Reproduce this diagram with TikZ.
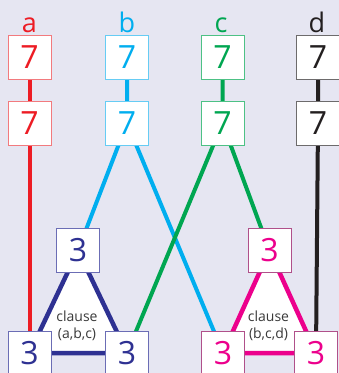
\documentclass[tikz,border=0pt]{standalone}
\usepackage{fontspec}
\setmainfont{Open Sans}
\definecolor{bg}{HTML}{E6E6F2}
\definecolor{cred}{HTML}{ED1C24}
\definecolor{cblue}{HTML}{00AEEF}
\definecolor{cgreen}{HTML}{00A651}
\definecolor{cblack}{HTML}{231F20}
\definecolor{cnavy}{HTML}{2E3192}
\definecolor{cmag}{HTML}{EC008C}
\definecolor{lred}{HTML}{F27A7E}
\definecolor{lblue}{HTML}{66CCF4}
\definecolor{lgreen}{HTML}{4DC185}
\definecolor{lgrey}{HTML}{6D6B6C}
\definecolor{lnavy}{HTML}{6B6DB5}
\definecolor{lmag}{HTML}{B0508A}
\definecolor{ctext}{HTML}{3A3A3A}
\tikzset{
  numbox/.style={draw=#1, fill=white, line width=1pt, minimum width=43pt, minimum height=44pt, inner sep=0pt, font=\fontsize{32}{32}\selectfont},
  lbl/.style={font=\fontsize{27}{27}\selectfont, inner sep=0pt},
  wire/.style={line width=4pt},
  cl/.style={font=\fontsize{14}{17.5}\selectfont, text=ctext, align=center, inner sep=0pt}
}
\begin{document}
\begin{tikzpicture}[x=1pt,y=-1pt]
\fill[bg] (0,0) rectangle (339,373);
\useasboundingbox (0,0) rectangle (339,373);
% labels
\node[lbl, text=cred, anchor=base] (la) at (29.5,32) {a};
\node[lbl, text=cblue, anchor=base] (lb) at (127,32) {b};
\node[lbl, text=cgreen, anchor=base] (lc) at (221,32) {c};
\node[lbl, text=cblack, anchor=base] (ld) at (317,32) {d};
% coordinates
\coordinate (pa1) at (29.5,57);
\coordinate (pa2) at (29.5,123);
\coordinate (pb1) at (127,57);
\coordinate (pb2) at (127,123);
\coordinate (pc1) at (222.5,57);
\coordinate (pc2) at (222.5,123);
\coordinate (pd1) at (318,57);
\coordinate (pd2) at (318,123);
\coordinate (pt1) at (78,250.5);
\coordinate (pl1) at (29.5,353);
\coordinate (pr1) at (127,353);
\coordinate (pt2) at (269.5,250.5);
\coordinate (pl2) at (223,353);
\coordinate (pr2) at (316,353);
% wires
\draw[wire, cred] (pa1) -- (pa2) -- (pl1);
\draw[wire, cblue] (pb1) -- (pb2) -- (pt1);
\draw[wire, cblue] (pb2) -- (pl2);
\draw[wire, cgreen] (pc1) -- (pc2) -- (pt2);
\draw[wire, cgreen] (pc2) -- (pr1);
\draw[wire, cblack] (pd1) -- (pd2) -- (pr2);
% triangles
\filldraw[wire, line width=4.5pt, cnavy, fill=white, line join=miter] (pt1) -- (pl1) -- (pr1) -- cycle;
\filldraw[wire, line width=4.5pt, cmag, fill=white, line join=miter] (pt2) -- (pl2) -- (pr2) -- cycle;
\node[cl] (ca) at (77,326) {clause\\(a,b,c)};
\node[cl] (cb) at (268.5,326) {clause\\(b,c,d)};
% boxes
\node[numbox=lred, text=cred] (a1) at (pa1) {7};
\node[numbox=lred, text=cred] (a2) at (pa2) {7};
\node[numbox=lblue, text=cblue] (b1) at (pb1) {7};
\node[numbox=lblue, text=cblue] (b2) at (pb2) {7};
\node[numbox=lgreen, text=cgreen] (c1) at (pc1) {7};
\node[numbox=lgreen, text=cgreen] (c2) at (pc2) {7};
\node[numbox=lgrey, text=cblack] (d1) at (pd1) {7};
\node[numbox=lgrey, text=cblack] (d2) at (pd2) {7};
\node[numbox=lnavy, text=cnavy] (t1) at (pt1) {3};
\node[numbox=lnavy, text=cnavy] (l1) at (pl1) {3};
\node[numbox=lnavy, text=cnavy] (r1) at (pr1) {3};
\node[numbox=lmag, text=cmag] (t2) at (pt2) {3};
\node[numbox=lmag, text=cmag] (l2) at (pl2) {3};
\node[numbox=lmag, text=cmag] (r2) at (pr2) {3};
\end{tikzpicture}
\end{document}
